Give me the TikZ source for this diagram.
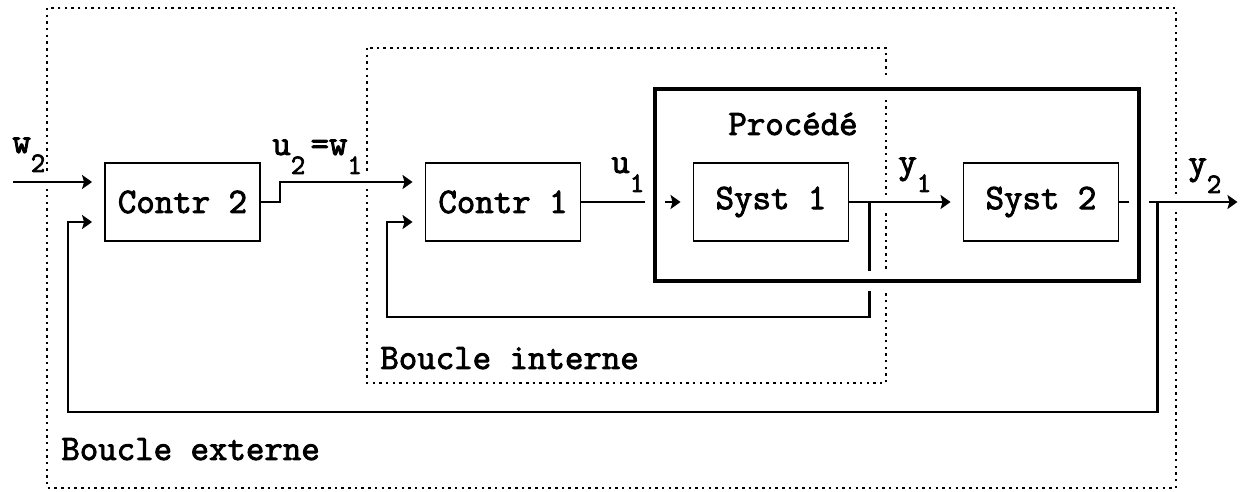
\documentclass[tikz,border=0pt]{standalone}
\usepackage{fontspec}
\newfontfamily\dotfont{Latin Modern Mono}[FakeBold=2.5]
\usetikzlibrary{arrows.meta,calc}

\newcommand{\lbl}{\dotfont\fontsize{20.4pt}{22pt}\selectfont}
\newcommand{\idx}[1]{\raisebox{-10.8pt}{\fontsize{16pt}{16pt}\selectfont #1}}

\tikzset{
  blk/.style={draw, line width=1.1pt, minimum width=3.1cm, minimum height=1.56cm, inner sep=0pt},
  sig/.style={line width=1.5pt, -{Stealth[length=2mm,width=2.8mm,inset=0.4mm]}, shorten >=2.4mm},
  cased/.style={preaction={draw=white, line width=2.8mm, arrows=-}},
  loopbox/.style={line width=1.4pt, dash pattern=on 1.4pt off 2.4pt},
  proc/.style={draw, line width=2.6pt, minimum width=9.68cm, minimum height=3.84cm, inner sep=0pt,
    preaction={draw=white, line width=4mm}},
  tag/.style={anchor=base west, inner sep=0pt},
}

\begin{document}
\begin{tikzpicture}[x=0.02cm, y=-0.02cm, font=\lbl]
\useasboundingbox (0,0) rectangle (1247,492);

% the two loops
\draw[loopbox] (47,8) rectangle (1176,488);
\draw[loopbox] (367,48) rectangle (886,383);
\node[tag] (ext) at (61,460) {Boucle externe};
\node[tag] (int) at (380,369) {Boucle interne};

% blocks
\node[blk] (c2) at (182.5,202) {Contr 2};
\node[blk] (c1) at (503,202) {Contr 1};
\node[blk] (s1) at (771,202) {Syst 1};
\node[blk] (s2) at (1041,202) {Syst 2};

\coordinate (w) at (13,182);
\coordinate (br1) at ($(s1.east)+(20,0)$);
\coordinate (br2) at ($(s2.east)+(38,0)$);
\coordinate (y) at ($(s2.east)+(118,0)$);
\coordinate (fbi) at (387,317);
\coordinate (fbo) at (68,412);

% forward path
\draw[sig,cased] (w) -- (w -| c2.west);
\draw[sig,cased] (c2.east) -- ++(19,0) |- (w -| c1.west);
\draw[sig] (c1.east) -- (s1.west);
\draw[sig,cased] (s1.east) -- (s2.west);
\draw[sig,cased,shorten >=0pt] (s2.east) -- (y);

% feedback
\draw[sig] (br1) |- (fbi) |- ($(c1.west)+(0,20)$);
\draw[sig] (br2) |- (fbo) |- ($(c2.west)+(0,20)$);

% process
\node[proc] (proc) at (897,185) {};
\node[anchor=base] (proclbl) at (793,135) {Procédé};

% signal names
\node[tag] (lw2) at (12,153) {w\idx{2}};
\node[tag] (lu2) at (272,155) {u\idx{2}\kern3pt=w\idx{1}};
\node[tag] (lu1) at (611,173) {u\idx{1}};
\node[tag] (ly1) at (898,173) {y\idx{1}};
\node[tag] (ly2) at (1188,174) {y\idx{2}};
\end{tikzpicture}
\end{document}
